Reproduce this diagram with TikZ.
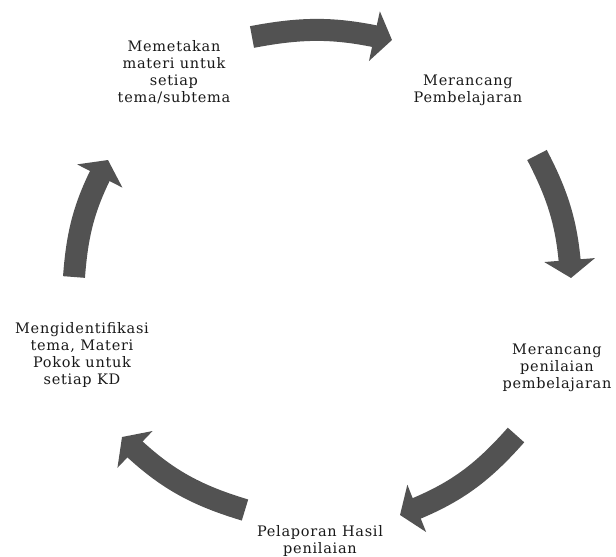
\documentclass[tikz,border=0pt]{standalone}
\usepackage{fontspec}
\usepackage{tikz}
\usetikzlibrary{positioning, arrows.meta, bending}
\newfontfamily\cyclefont{DejaVu Serif}[LetterSpace=5]
\definecolor{arrowgray}{RGB}{82,82,82}

\begin{document}
\begin{tikzpicture}[x=1pt,y=-1pt]
		\tikzstyle{step text} = [inner sep=0, align=center, text=black!90, font=\cyclefont\fontsize{14.5}{17}\selectfont]
		\tikzstyle{flow} = [draw=arrowgray, line width=22pt, -{Triangle[length=18pt,width=50pt]}]
		\useasboundingbox (0,0) rectangle (616,557);
		\node [step text] (v1) at (174,72) {Memetakan\\materi untuk\\setiap\\tema/subtema};
		\node [step text] (v2) at (468,90) {Merancang\\Pembelajaran};
		\node [step text] (v3) at (557,368) {Merancang\\penilaian\\pembelajaran};
		\node [step text] (v4) at (320,541) {Pelaporan Hasil\\penilaian};
		\node [step text] (v5) at (82,355) {Mengidentifikasi\\tema, Materi\\Pokok untuk\\setiap KD};
		
		% arrow ends around the cycle
		\coordinate (c1) at (252,37);  \coordinate (c2) at (392,40);
		\coordinate (c3) at (537,155); \coordinate (c4) at (571,278);
		\coordinate (c5) at (516,435); \coordinate (c6) at (400,515);
		\coordinate (c7) at (245,510); \coordinate (c8) at (122,437);
		\coordinate (c9) at (74,277);  \coordinate (c10) at (108,160);
		
		\draw [flow] (c1) to[bend left=12] (c2);
		\draw [flow] (c3) to[bend left=12] (c4);
		\draw [flow] (c5) to[bend left=14] (c6);
		\draw [flow] (c7) to[bend left=14] (c8);
		\draw [flow] (c9) to[bend left=12] (c10);
		\end{tikzpicture}
\end{document}
